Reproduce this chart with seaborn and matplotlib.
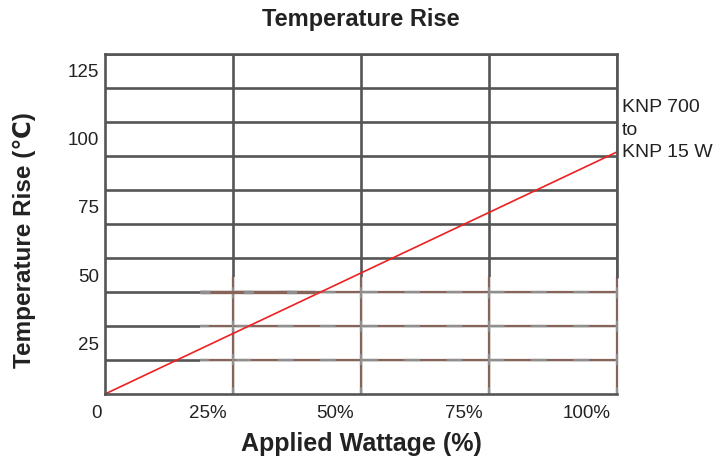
import matplotlib
matplotlib.use("Agg")
import matplotlib.pyplot as plt
import matplotlib.transforms as mtransforms
import numpy as np
import seaborn as sns

# data
wattage = [0, 100]
temp_rise = [0, 89]

grid_x = [25, 50, 75, 100]
grid_y = [12.5, 25, 37.5, 50, 62.5, 75, 87.5, 100, 112.5, 125]

xtick_pos = [0, 20, 45, 70, 94]
xtick_labels = ["0", "25%", "50%", "75%", "100%"]
ytick_pos = [18.75, 43.75, 68.75, 93.75, 118.75]
ytick_labels = ["25", "50", "75", "100", "125"]

series_label = "KNP 700\nto\nKNP 15 W"

GRID = "#555555"
BROWN = "#86645a"
LIGHT = "#8f8f8f"
TEXT = "#222222"

sns.set_theme(style="white")
plt.rcParams["font.family"] = ["Liberation Sans", "DejaVu Sans"]

fig = plt.figure(figsize=(7.15, 4.63), dpi=100)
ax = fig.add_axes([0.1469, 0.149, 0.7161, 0.7344])

# main grid
for gx in grid_x:
    ax.axvline(gx, color=GRID, lw=1.9, zorder=1)
for gy in grid_y:
    ax.axhline(gy, color=GRID, lw=1.9, zorder=1)

# washed-out patch of grid in the lower right (scan artefact)
x0, y1 = 18.5, 43
patch_h = [12.5, 25, 37.5]
patch_v = [25, 50, 75, 100]
ax.hlines(patch_h, x0, 100, color="white", lw=2.6, zorder=2)
ax.vlines(patch_v, 0, y1, color="white", lw=2.6, zorder=2, clip_on=False)
ax.hlines(patch_h, x0, 100, color=BROWN, lw=1.6, zorder=3)
ax.vlines(patch_v, 0, y1, color=BROWN, lw=1.6, zorder=3, clip_on=False)
ax.hlines(patch_h, x0, 100, color=LIGHT, lw=1.6, zorder=4,
          linestyles=[(3, (7, 12))])
ax.vlines(patch_v, 0, y1, color=LIGHT, lw=1.6, zorder=4,
          linestyles=[(2, (5, 10))], clip_on=False)
ax.hlines([37.5], x0, 41, color=BROWN, lw=2.4, zorder=5)
ax.hlines([37.5], x0, 41, color=LIGHT, lw=2.4, zorder=6,
          linestyles=[(0, (3, 10))])

sns.lineplot(x=wattage, y=temp_rise, ax=ax, color="#ee2020", lw=1.2,
             zorder=7, clip_on=False)

for side in ["left", "bottom", "top"]:
    ax.spines[side].set_color(GRID)
    ax.spines[side].set_linewidth(1.9)
    ax.spines[side].set_zorder(8)
ax.spines["right"].set_visible(False)
ax.plot([100, 100], [y1, 125], color=GRID, lw=1.9, zorder=8, clip_on=False)

ax.set_xticks(xtick_pos)
ax.set_xticklabels(xtick_labels)
ax.set_yticks(ytick_pos)
ax.set_yticklabels(ytick_labels)
ax.set_xlim(0, 100)
ax.set_ylim(0, 125)
ax.tick_params(axis="both", length=0, labelsize=13.5, labelcolor=TEXT)
ax.tick_params(axis="x", pad=8)
ax.tick_params(axis="y", pad=4)
ax.grid(False)

# the "0" sits a little left of the corner
shift = mtransforms.ScaledTranslation(-9 / 100, 0, fig.dpi_scale_trans)
first = ax.get_xticklabels()[0]
first.set_transform(first.get_transform() + shift)

ax.text(101, 97, series_label, fontsize=14, color=TEXT, va="center",
        ha="left", linespacing=1.4, clip_on=False)

fig.text(0.505, 0.957, "Temperature Rise", fontsize=17, fontweight="bold",
         color=TEXT, ha="center", va="center")
fig.text(0.505, 0.041, "Applied Wattage (%)", fontsize=18, fontweight="bold",
         color=TEXT, ha="center", va="center")
fig.text(0.034, 0.482, "Temperature Rise (\u2103)", fontsize=17.5,
         fontweight="bold", color=TEXT, ha="center", va="center", rotation=90)

fig.savefig("out.png", dpi=100, facecolor="white")
